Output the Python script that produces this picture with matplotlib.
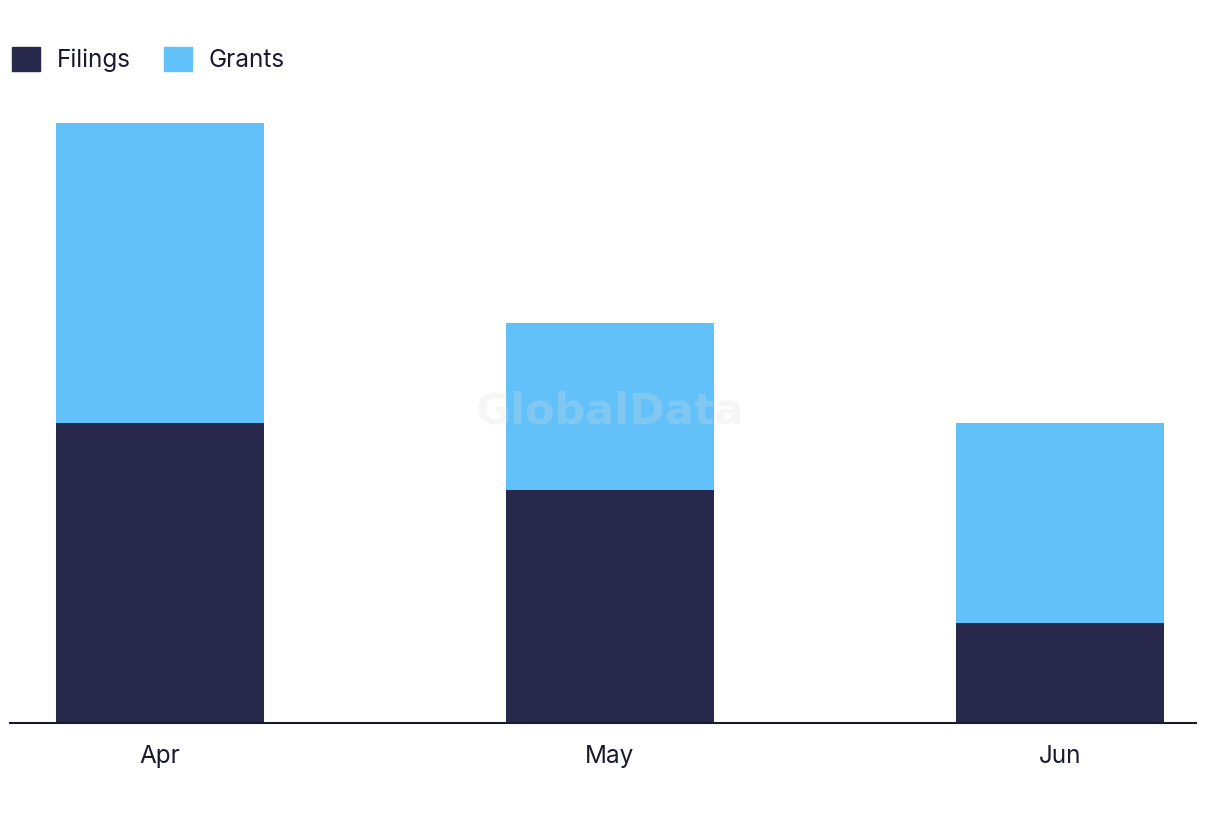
import matplotlib.pyplot as plt
from matplotlib.patches import Patch

# Data
months = ['Apr', 'May', 'Jun']
filings = [9, 7, 3]
grants = [9, 5, 6]

navy = '#27284b'
blue = '#62c1f8'

plt.rcParams['font.family'] = ['Inter', 'DejaVu Sans']

fig = plt.figure(figsize=(12.2, 8.22), dpi=100)
ax = fig.add_axes([10 / 1220, 99 / 822, 1186 / 1220, 600 / 822])

x = list(range(len(months)))
ax.bar(x, filings, width=0.462, color=navy, label='Filings')
ax.bar(x, grants, width=0.462, bottom=filings, color=blue, label='Grants')

ax.set_xlim(-0.333, 2.302)
ax.set_ylim(0, 18)
ax.set_xticks(x)
ax.set_xticklabels(months, fontsize=17.5, color='#1a1a2e')
ax.tick_params(axis='x', length=0, pad=16)
ax.set_yticks([])
for s in ['top', 'right', 'left']:
    ax.spines[s].set_visible(False)
ax.spines['bottom'].set_color('#1a1a2e')
ax.spines['bottom'].set_linewidth(1.5)

handles = [Patch(color=navy, label='Filings'), Patch(color=blue, label='Grants')]
fig.legend(handles=handles, loc='upper left', bbox_to_anchor=(-10 / 1220, 1 - 25 / 822),
           ncol=2, frameon=False, fontsize=17.5, handlelength=1.15, handleheight=1.15,
           handletextpad=0.7, columnspacing=1.35, labelcolor='#1a1a2e')

# watermark
fig.text(0.5, 0.5, 'GlobalData', fontsize=31, fontweight='bold', color='#dddddd',
         alpha=0.25, ha='center', va='center', family='DejaVu Sans')

fig.savefig('out.png', dpi=100)
